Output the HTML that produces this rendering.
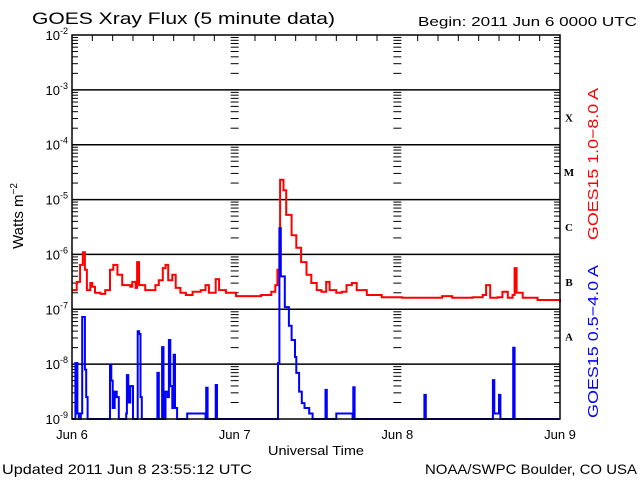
<!DOCTYPE html>
<html><head><meta charset="utf-8"><style>
html,body{margin:0;padding:0;background:#fff;}
svg{display:block;font-family:"Liberation Sans",sans-serif;}
</style></head><body>
<svg id="chart" width="640" height="480" viewBox="0 0 640 480">
<text x="32" y="24" font-size="17" textLength="303" lengthAdjust="spacingAndGlyphs">GOES Xray Flux (5 minute data)</text>
<text x="418" y="26" font-size="13" textLength="219" lengthAdjust="spacingAndGlyphs">Begin:  2011 Jun 6 0000 UTC</text>
<text x="2" y="474" font-size="14" textLength="250" lengthAdjust="spacingAndGlyphs">Updated 2011 Jun  8 23:55:12 UTC</text>
<text x="425" y="474" font-size="14" textLength="212" lengthAdjust="spacingAndGlyphs">NOAA/SWPC Boulder, CO USA</text>
<text x="268" y="455" font-size="13" textLength="96" lengthAdjust="spacingAndGlyphs">Universal Time</text>
<text transform="translate(23,216) rotate(-90)" font-size="15" text-anchor="middle">Watts m<tspan font-size="10" dy="-6">−2</tspan></text>
<text transform="translate(598,240) rotate(-90)" font-size="15" fill="#ff0000" textLength="152" lengthAdjust="spacingAndGlyphs">GOES15 1.0−8.0 A</text>
<text transform="translate(598,418) rotate(-90)" font-size="15" fill="#0000ff" textLength="153" lengthAdjust="spacingAndGlyphs">GOES15 0.5−4.0 A</text>
<g id="grid"></g><g id="ticks"></g><g id="series"></g><g id="labels"></g>
<rect x="72" y="35" width="488" height="384" fill="none" stroke="#000" stroke-width="1.5"/>
</svg>
<script>
const yTickExps = [-2,-3,-4,-5,-6,-7,-8,-9];
const xDayLabels = ["Jun 6","Jun 7","Jun 8","Jun 9"];
const classLabels = ["X","M","C","B","A"];
const classExps = [-3.5,-4.5,-5.5,-6.5,-7.5];
const redTimes = [0,0.7,1.2,1.6,1.9,2.2,2.7,3.0,3.4,4.2,4.9,5.6,6.1,6.7,7.4,8.6,8.9,9.4,9.6,9.9,10.8,11.6,12.3,12.8,13.4,13.8,14.2,14.8,15.3,16.0,16.8,17.8,19.0,19.7,20.2,21.2,21.7,22.7,24.2,26.4,27.9,29.4,30.0,30.3,30.6,30.7,31.2,31.6,32.4,33.1,33.8,34.6,35.3,36.1,36.8,37.5,38.0,39.0,39.8,40.5,41.3,42.0,43.5,45.7,48.7,51.6,54.6,56.1,59.1,60.6,61.1,61.7,62.8,63.5,64.3,65.0,65.3,65.6,66.5,68.7,72];
const redLogFlux = [-6.65,-6.50,-6.19,-5.96,-6.28,-6.65,-6.52,-6.59,-6.70,-6.72,-6.65,-6.28,-6.19,-6.37,-6.56,-6.59,-6.50,-6.61,-6.14,-6.56,-6.65,-6.65,-6.56,-6.47,-6.25,-6.19,-6.47,-6.37,-6.61,-6.70,-6.74,-6.68,-6.65,-6.56,-6.70,-6.45,-6.65,-6.70,-6.76,-6.76,-6.74,-6.68,-6.56,-6.28,-5.74,-4.64,-4.83,-5.28,-5.65,-5.88,-6.14,-6.37,-6.52,-6.65,-6.68,-6.50,-6.65,-6.70,-6.68,-6.56,-6.52,-6.65,-6.74,-6.78,-6.79,-6.79,-6.76,-6.79,-6.78,-6.74,-6.56,-6.79,-6.78,-6.68,-6.79,-6.74,-6.25,-6.70,-6.79,-6.83,-6.87];
const blueTimes = [0,0.3,0.5,0.8,1.0,1.3,1.5,1.7,1.9,2.1,2.3,4.5,5.5,5.6,5.8,6.0,6.3,6.6,6.9,8.0,8.1,8.3,8.6,9.0,9.5,9.7,9.9,10.1,10.3,12.5,12.6,12.8,13.2,13.3,13.5,13.8,14.1,14.3,14.5,14.8,15.0,15.2,15.5,17.0,19.7,19.8,20.0,21.1,21.2,21.4,30.2,30.4,30.6,30.8,31.4,32.0,32.4,32.9,33.1,33.5,33.9,34.3,35.0,35.5,37.3,37.4,37.6,39.0,41.4,41.5,41.7,51.9,52.0,52.2,56,62.0,62.1,62.3,63.0,63.2,65.0,65.1,65.3,72];
const blueLogFlux = [-9,-9,-7.98,-8.9,-9,-8.9,-7.14,-7.14,-8.1,-8.6,-9,-9,-9,-8.02,-8.3,-8.8,-8.5,-8.6,-9,-8.9,-8.2,-8.7,-8.4,-9,-9,-7.40,-7.45,-8.6,-9,-9,-8.16,-9,-9,-7.69,-9,-8.5,-8.6,-7.56,-8.4,-8.8,-7.83,-8.8,-9,-8.9,-9,-8.43,-9,-9,-8.38,-9,-9,-7.98,-5.52,-6.4,-6.96,-7.3,-7.56,-7.87,-8.16,-8.5,-8.71,-8.8,-8.9,-9,-9,-8.47,-9,-8.9,-9,-8.42,-9,-9,-8.56,-9,-9,-9,-8.29,-8.9,-8.56,-9,-9,-7.70,-9,-9];

const L=72,R=560,T=35,B=419;
const xs = h => L + (h/72)*(R-L);
const ys = e => T + (-2 - e)/7*(B-T);
const NS="http://www.w3.org/2000/svg";
function mk(tag,attrs,parent){const el=document.createElementNS(NS,tag);for(const k in attrs)el.setAttribute(k,attrs[k]);document.getElementById(parent).appendChild(el);return el;}

yTickExps.forEach((e,i)=>{
  if(e!==-2&&e!==-9){
    const g=mk('line',{x1:L,x2:R,y1:ys(e),y2:ys(e),stroke:'#000','stroke-width':1.5},'grid');
    
    
  }
  const t=mk('text',{x:L-4,y:ys(e)+5,'font-size':13,'text-anchor':'end'},'labels');
  
  
  t.innerHTML='10<tspan font-size="9" dy="-6">'+e+'</tspan>';
  if(e>-9){
    for(let m=2;m<=9;m++){
      const yy=ys(e-1+Math.log10(m));
      [[L,L+6],[R-6,R],[xs(24)-4,xs(24)+4],[xs(48)-4,xs(48)+4]].forEach(p=>{
        const tk=mk('line',{x1:p[0],x2:p[1],y1:yy,y2:yy,stroke:'#000','stroke-width':1},'ticks');
        
        
      });
    }
    [xs(24),xs(48)].forEach(xx=>{
      const tk=mk('line',{x1:xx-4,x2:xx+4,y1:ys(e),y2:ys(e),stroke:'#000','stroke-width':1},'ticks');
      
      
    });
  }
});
for(let h=3;h<72;h+=3){
  if(h%24===0)continue;
  const a=mk('line',{x1:xs(h),x2:xs(h),y1:T,y2:T+6,stroke:'#000','stroke-width':1},'ticks');
  
  
}
xDayLabels.forEach((d,i)=>{
  const t=mk('text',{x:xs(i*24),y:439,'font-size':13,'text-anchor':'middle'},'labels');
  
  
  t.textContent=d;
});
classLabels.forEach((c,i)=>{
  const t=mk('text',{x:569,y:ys(classExps[i])+4,'font-size':11,'font-weight':'bold','text-anchor':'middle','font-family':'Liberation Serif, serif'},'labels');
  
  
  t.textContent=c;
});
function path(times,vals){
  let d='';
  times.forEach((h,i)=>{
    const v=Math.max(-9,vals[i]);
    const x=xs(h).toFixed(1), y=ys(v).toFixed(1);
    d+= i? ('H'+x+'V'+y) : ('M'+x+','+y);
  });
  return d;
}
const rp=mk('path',{d:path(redTimes,redLogFlux),fill:'none',stroke:'#ff0000','stroke-width':2},'series');


const bp=mk('path',{d:path(blueTimes,blueLogFlux),fill:'none',stroke:'#0000ff','stroke-width':2},'series');


</script>
</body></html>
